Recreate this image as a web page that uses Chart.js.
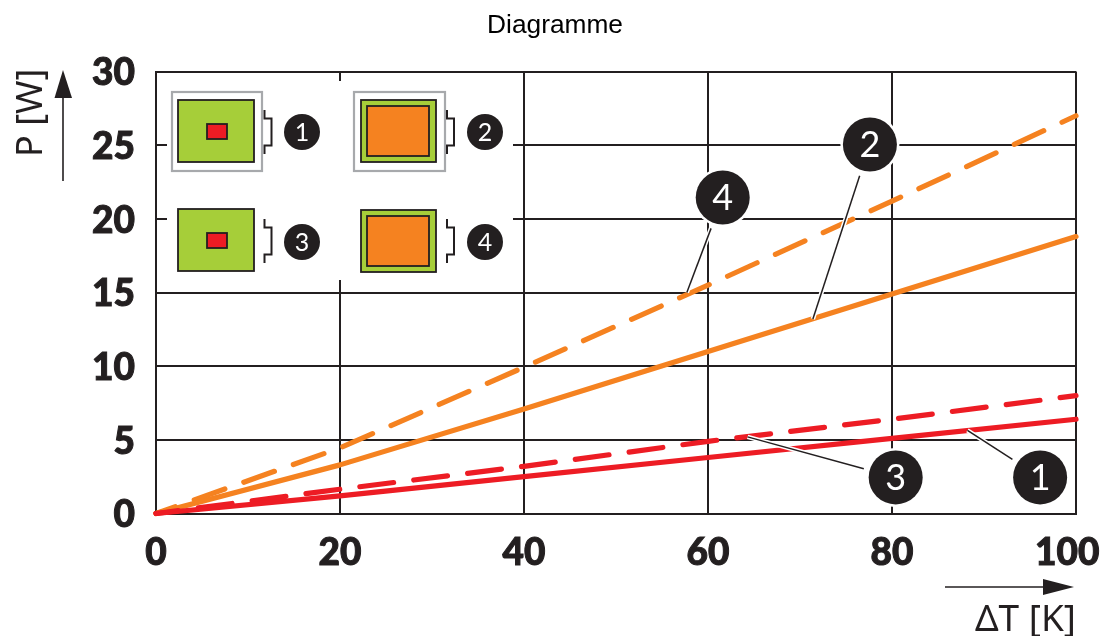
<!DOCTYPE html>
<html><head><meta charset="utf-8">
<style>html,body{margin:0;padding:0;background:#fff}canvas{display:block}</style>
<script src="https://cdn.jsdelivr.net/npm/chart.js@4"></script></head>
<body><canvas id="c" width="1103" height="636"></canvas>
<script>
const xValues=[0,20,40,60,80,100];
const line1=[0,1.2,2.5,3.8,5.1,6.4];
const line2=[0,3.3,7.1,11,14.9,18.8];
const line3=[0,1.65,3.2,4.9,6.4,8];
const line4=[0,4.45,9.93,15.5,21.2,27];
const badgeNames=['1','2','3','4'];
const badgeX=[96.1,77.6,80.4,61.6];
const badgeY=[2.45,25.05,2.45,21.45];
const anchorX=[88.2,71.4,64.3,57.7];
const anchorY=[5.65,13.2,5.2,15.0];
const INK='#231f20',RED='#ed1c24',ORANGE='#f58220',GREEN='#a6ce39',GRAY='#a7a9ac';
const pts=a=>a.map((y,i)=>({x:xValues[i],y}));
function ds(a,color,dash,off){return{data:pts(a),borderColor:color,borderWidth:5.2,borderDash:dash,borderDashOffset:off||0,borderCapStyle:'round',borderJoinStyle:'round',pointRadius:0,tension:0,fill:false,clip:false};}
function badge(c,x,y,r,t,size){
  c.fillStyle='#fff';c.beginPath();c.arc(x,y,r+2.5,0,7);c.fill();
  c.fillStyle=INK;c.beginPath();c.arc(x,y,r,0,7);c.fill();
  c.fillStyle='#fff';c.font='400 '+size+'px Lato';c.textAlign='center';c.textBaseline='middle';c.fillText(t,x,y+1);
}
function box(c,x0,y0,x1,y1,fill,stroke,w){c.fillStyle=fill;c.fillRect(x0,y0,x1-x0,y1-y0);c.strokeStyle=stroke;c.lineWidth=w;c.strokeRect(x0,y0,x1-x0,y1-y0);}
function bracket(c,x,y){c.strokeStyle=INK;c.lineWidth=2;c.beginPath();c.moveTo(x,y);c.lineTo(x,y+8.5);c.lineTo(x+7,y+8.5);c.lineTo(x+7,y+35.5);c.lineTo(x,y+35.5);c.lineTo(x,y+44);c.stroke();}
function chipSmall(c,x0,y0){box(c,x0,y0,x0+76,y0+62,GREEN,INK,1.8);box(c,x0+29,y0+24,x0+49,y0+39,RED,INK,1.8);}
function chipLarge(c,x0,y0){box(c,x0,y0,x0+75,y0+62,GREEN,INK,1.8);box(c,x0+6,y0+6,x0+68,y0+56,ORANGE,INK,1.8);}
const art={
  id:'art',
  beforeDatasetsDraw(ch){
    const c=ch.ctx;c.save();c.fillStyle='#fff';c.fillRect(167,81,346,199);c.restore();
  },
  afterDatasetsDraw(ch){
    const c=ch.ctx,X=ch.scales.x,Y=ch.scales.y;c.save();
    c.strokeStyle=GRAY;c.lineWidth=2.2;c.strokeRect(172,92,90,79);c.strokeRect(354,92,91,79);
    chipSmall(c,178,100);chipLarge(c,361,100);chipSmall(c,178,209);chipLarge(c,361,210);
    bracket(c,264.5,110);bracket(c,447,110);bracket(c,264.5,219);bracket(c,447,219);
    [[302,132,'1'],[485,132,'2'],[302,242,'3'],[485,242,'4']].forEach(b=>badge(c,b[0],b[1],18,b[2],25));
    badgeNames.forEach((t,i)=>{
      const bx=X.getPixelForValue(badgeX[i]),by=Y.getPixelForValue(badgeY[i]);
      const ax=X.getPixelForValue(anchorX[i]),ay=Y.getPixelForValue(anchorY[i]);
      const d=Math.hypot(ax-bx,ay-by),sx=bx+(ax-bx)*33/d,sy=by+(ay-by)*33/d;
      c.lineCap='butt';
      c.strokeStyle='#fff';c.lineWidth=4.5;c.beginPath();c.moveTo(sx,sy);c.lineTo(ax,ay);c.stroke();
      c.strokeStyle=INK;c.lineWidth=1.5;c.beginPath();c.moveTo(sx,sy);c.lineTo(ax,ay);c.stroke();
      badge(c,bx,by,27,t,36);
    });
    c.strokeStyle=INK;c.fillStyle=INK;c.lineWidth=1.6;
    c.beginPath();c.moveTo(63,181);c.lineTo(63,96);c.stroke();
    c.beginPath();c.moveTo(63,70);c.lineTo(54.5,98);c.lineTo(72,98);c.closePath();c.fill();
    c.beginPath();c.moveTo(945,587);c.lineTo(1045,587);c.stroke();
    c.beginPath();c.moveTo(1074,587);c.lineTo(1043,579);c.lineTo(1043,595);c.closePath();c.fill();
    c.translate(42,157);c.rotate(-Math.PI/2);c.font='36px "Noto Sans"';c.textAlign='left';c.textBaseline='alphabetic';c.fillText('P [W]',0,0);
    c.restore();
  }
};
function noPad(s){s.paddingLeft=0;s.paddingRight=0;s.paddingTop=0;s.paddingBottom=0;}
new Chart(document.getElementById('c'),{
  type:'line',
  data:{datasets:[ds(line1,RED),ds(line3,RED,[34,20.3],11.6),ds(line2,ORANGE),ds(line4,ORANGE,[32.5,20.1],12)]},
  plugins:[art],
  options:{
    responsive:false,animation:false,devicePixelRatio:1,
    layout:{padding:{left:34,right:27,top:0,bottom:0}},
    plugins:{
      legend:{display:false},tooltip:{enabled:false},
      title:{display:true,text:'Diagramme',color:'#000',font:{family:'"Liberation Sans"',size:26.3,weight:'normal',lineHeight:1.2},padding:{top:10,bottom:30}}
    },
    scales:{
      x:{type:'linear',min:0,max:100,
        grid:{color:INK,lineWidth:2,drawTicks:false},border:{color:INK,width:2},
        ticks:{stepSize:20,maxRotation:0,autoSkip:false,padding:17,color:INK,textStrokeColor:INK,textStrokeWidth:1,font:{family:'Lato',size:37,weight:900},callback:v=>v===100?'100  ':String(v)},
        title:{display:true,text:'ΔT [K]',align:'end',color:INK,font:{family:'"Noto Sans"',size:37,weight:'normal',lineHeight:1.2},padding:{top:0,bottom:-7}},
        afterFit(s){s.height=122.5;noPad(s);}
      },
      y:{min:0,max:30,
        grid:{color:INK,lineWidth:2,drawTicks:false},border:{color:INK,width:2},
        ticks:{stepSize:5,padding:21,labelOffset:2,color:INK,textStrokeColor:INK,textStrokeWidth:1,font:{family:'Lato',size:37,weight:900}},
        afterFit(s){s.width=122;noPad(s);}
      }
    }
  }
});
</script></body></html>
